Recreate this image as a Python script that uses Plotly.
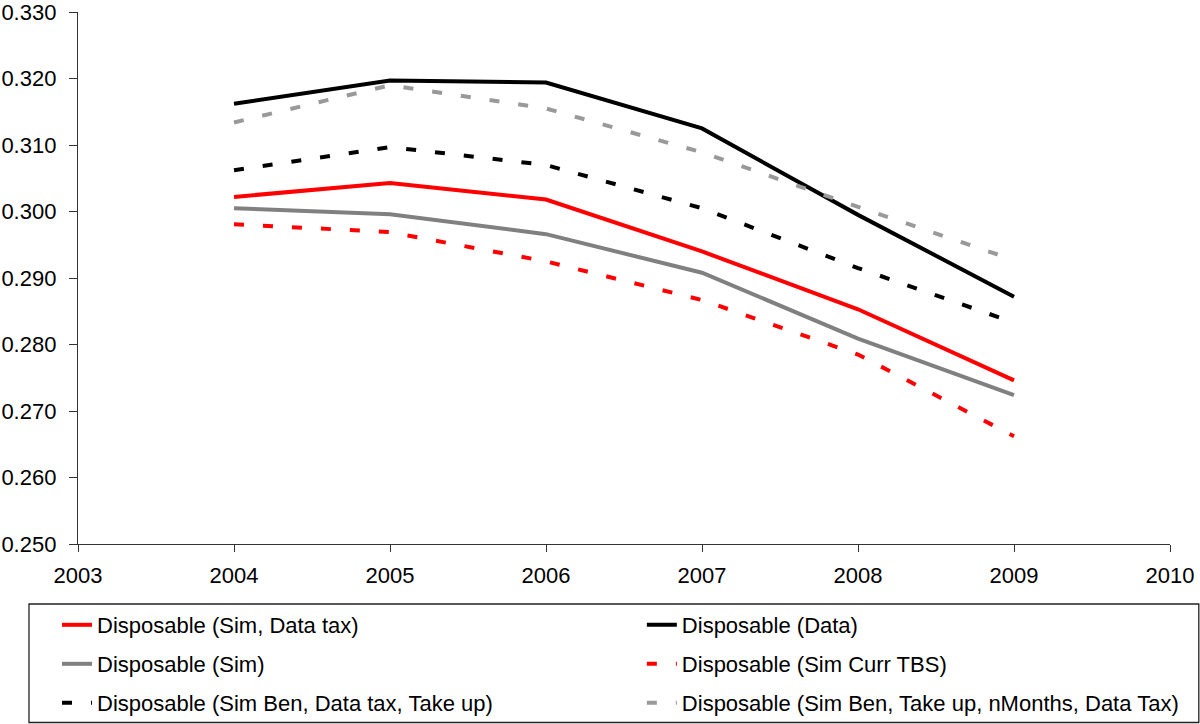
import plotly.graph_objects as go

years = [2004, 2005, 2006, 2007, 2008, 2009]
disp_sim_data_tax = [0.3022, 0.3043, 0.3018, 0.2940, 0.2853, 0.2746]
disp_data = [0.3162, 0.3197, 0.3194, 0.3125, 0.2995, 0.2872]
disp_sim = [0.3005, 0.2996, 0.2966, 0.2908, 0.2809, 0.2724]
disp_sim_curr_tbs = [0.2981, 0.2969, 0.2925, 0.2867, 0.2785, 0.2662]
disp_sim_ben_dt_tu = [0.3062, 0.3097, 0.3070, 0.3005, 0.2915, 0.2833]
disp_sim_ben_tu_nm = [0.3134, 0.3190, 0.3155, 0.3089, 0.3007, 0.2927]

y_ticks = [0.25, 0.26, 0.27, 0.28, 0.29, 0.30, 0.31, 0.32, 0.33]
x_ticks = [2003, 2004, 2005, 2006, 2007, 2008, 2009, 2010]

FONT = "Liberation Sans, Arial, Helvetica, sans-serif"
DASH = "10px,19px"

W, H = 1200, 724
L, R, T, B = 78, 1169.7, 12, 544

def px(x):
    return (x - L) / (R - L)

def py(y):
    return (B - y) / (B - T)

# (name, values, colour, dash, legend text x, legend row y) -- legend placement in pixels
series = [
    ("Disposable (Sim, Data tax)", disp_sim_data_tax, "#ff0000", "solid", 97, 625),
    ("Disposable (Data)", disp_data, "#000000", "solid", 681.7, 625),
    ("Disposable (Sim)", disp_sim, "#808080", "solid", 97, 664),
    ("Disposable (Sim Curr TBS)", disp_sim_curr_tbs, "#ff0000", DASH, 681.7, 664),
    ("Disposable (Sim Ben, Data tax, Take up)", disp_sim_ben_dt_tu, "#000000", DASH, 97, 703),
    ("Disposable (Sim Ben, Take up, nMonths, Data Tax)", disp_sim_ben_tu_nm, "#999999", DASH, 681.7, 703),
]

fig = go.Figure()
legends = {}
for i, (name, vals, color, dash, lx, ly) in enumerate(series):
    key = "legend" if i == 0 else f"legend{i + 1}"
    fig.add_trace(go.Scatter(
        x=years, y=vals, name=name, mode="lines",
        line=dict(color=color, width=4, dash=dash),
        legend=key,
    ))
    legends[key] = dict(
        orientation="h", xref="paper", yref="paper", xanchor="left", yanchor="middle",
        x=px(lx - 40), y=py(ly),
        font=dict(family=FONT, size=22, color="#000000"),
        bgcolor="rgba(0,0,0,0)", borderwidth=0,
        itemclick=False, itemdoubleclick=False,
    )
fig.update_layout(**legends)

fig.add_shape(type="rect", xref="paper", yref="paper",
              x0=px(29), x1=px(1198.5), y0=py(722.5), y1=py(604),
              line=dict(color="#222222", width=1.3), fillcolor="rgba(0,0,0,0)")

fig.update_layout(
    width=W, height=H,
    margin=dict(l=L, r=W - R, t=T, b=H - B, pad=0, autoexpand=False),
    paper_bgcolor="white", plot_bgcolor="white",
    font=dict(family=FONT, size=22, color="#000000"),
    showlegend=True,
)
fig.update_xaxes(
    range=[2003, 2010], tickvals=x_ticks, ticktext=[str(v) for v in x_ticks],
    showgrid=False, zeroline=False, showline=True, linecolor="#333333", linewidth=1.3,
    ticks="outside", ticklen=7, tickwidth=1.3, tickcolor="#333333", automargin=False,
    tickfont=dict(family=FONT, size=22, color="#000000"), ticklabelstandoff=4,
    ticklabeloverflow="allow",
)
fig.update_yaxes(
    range=[0.25, 0.33001], tickvals=y_ticks, ticktext=[f"{v:.3f}" for v in y_ticks],
    showgrid=False, zeroline=False, showline=True, linecolor="#333333", linewidth=1.3,
    ticks="outside", ticklen=8, tickwidth=1.3, tickcolor="#333333", automargin=False,
    tickfont=dict(family=FONT, size=22, color="#000000"), ticklabelstandoff=8,
    ticklabeloverflow="allow",
)

fig.write_html(
    "out.html",
    config={"displayModeBar": False},
    post_script="document.body.style.margin='0';document.body.style.overflow='hidden';",
)
